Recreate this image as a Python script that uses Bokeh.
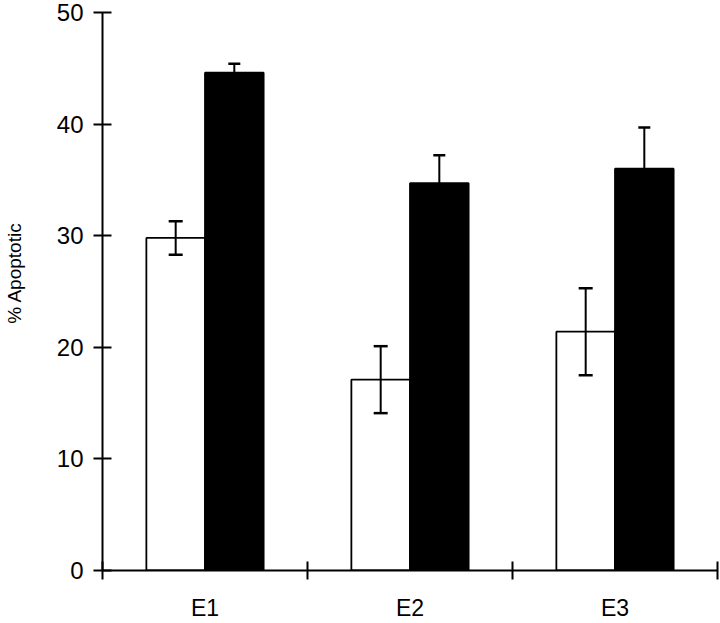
from bokeh.plotting import figure
from bokeh.models import ColumnDataSource, Range1d, FixedTicker, Whisker, TeeHead
from bokeh.embed import file_html
from bokeh.resources import INLINE

# ---- data ----
categories = ["E1", "E2", "E3"]
open_values = [29.8, 17.1, 21.4]
open_errors = [1.5, 3.0, 3.9]
filled_values = [44.6, 34.7, 36.0]
filled_errors = [0.8, 2.5, 3.7]
y_ticks = [0, 10, 20, 30, 40, 50]
y_label = "% Apoptotic"

FONT = "Liberation Sans"
bar_w = 0.286
n = len(categories)
centers = [i + 0.5 for i in range(n)]

src_open = ColumnDataSource(dict(
    x=[c - bar_w / 2 for c in centers], top=open_values,
    upper=[v + e for v, e in zip(open_values, open_errors)],
    lower=[v - e for v, e in zip(open_values, open_errors)]))
src_fill = ColumnDataSource(dict(
    x=[c + bar_w / 2 for c in centers], top=filled_values,
    upper=[v + e for v, e in zip(filled_values, filled_errors)],
    lower=[v - e for v, e in zip(filled_values, filled_errors)]))

p = figure(width=720, height=623, output_backend="svg", toolbar_location=None,
           x_range=Range1d(0, n), y_range=Range1d(0, 50),
           min_border_left=102, min_border_right=3, min_border_top=12, min_border_bottom=52)
p.outline_line_color = None
p.grid.visible = False
p.background_fill_color = "white"
p.border_fill_color = "white"

p.vbar(x="x", top="top", width=bar_w, source=src_open, fill_color="white",
       line_color="black", line_width=1.8)
p.vbar(x="x", top="top", width=bar_w, source=src_fill, fill_color="black",
       line_color="black", line_width=1.8)

for src, cap in ((src_open, 14), (src_fill, 12)):
    w = Whisker(base="x", upper="upper", lower="lower", source=src, level="overlay",
                line_color="black", line_width=2,
                upper_head=TeeHead(size=cap, line_width=2.5, line_color="black"),
                lower_head=TeeHead(size=cap, line_width=2.5, line_color="black"))
    p.add_layout(w)

# x axis
xa = p.xaxis[0]
xa.ticker = FixedTicker(ticks=centers, minor_ticks=list(range(n + 1)))
xa.major_label_overrides = {c: lab for c, lab in zip(centers, categories)}
xa.major_tick_in = 0
xa.major_tick_out = 0
xa.minor_tick_in = 9
xa.minor_tick_out = 9
xa.minor_tick_line_width = 2
xa.minor_tick_line_color = "black"
xa.axis_line_width = 2
xa.axis_line_color = "black"
xa.major_label_text_font = FONT
xa.major_label_text_font_size = "23px"
xa.major_label_text_color = "black"
xa.major_label_standoff = 15

# y axis
ya = p.yaxis[0]
ya.ticker = FixedTicker(ticks=y_ticks, minor_ticks=[])
ya.major_tick_in = 9
ya.major_tick_out = 9
ya.major_tick_line_width = 2
ya.major_tick_line_color = "black"
ya.minor_tick_line_color = None
ya.axis_line_width = 2
ya.axis_line_color = "black"
ya.major_label_text_font = FONT
ya.major_label_text_font_size = "24px"
ya.major_label_text_color = "black"
ya.major_label_standoff = 10
# leading no-break spaces lift the visible label above the axis centre, as in the reference
ya.axis_label = "\u00a0" * 7 + y_label
ya.axis_label_text_font = FONT
ya.axis_label_text_font_size = "19px"
ya.axis_label_text_font_style = "normal"
ya.axis_label_text_color = "black"
ya.axis_label_standoff = 29

open("out.html", "w").write(file_html(p, INLINE))
